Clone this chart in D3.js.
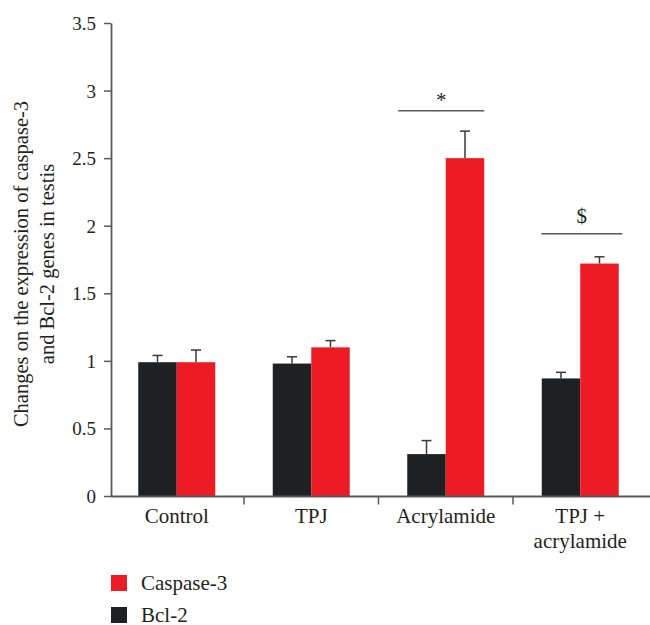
<!DOCTYPE html>
<html>
<head>
<meta charset="utf-8">
<script src="https://cdn.jsdelivr.net/npm/d3@7"></script>
<style>
  html, body { margin: 0; padding: 0; background: #fff; }
  svg { display: block; }
  text { font-family: "Liberation Serif", "DejaVu Serif", serif; fill: #231f20; }
</style>
</head>
<body>
<svg id="chart" width="650" height="625"></svg>
<script>
// ---- data ----
const categories = ["Control", "TPJ", "Acrylamide", "TPJ + acrylamide"];
const categoryLines = [["Control"], ["TPJ"], ["Acrylamide"], ["TPJ +", "acrylamide"]];
const seriesNames = ["Bcl-2", "Caspase-3"];
const bcl2 = [0.99, 0.98, 0.31, 0.87];
const bcl2Err = [0.05, 0.05, 0.10, 0.045];
const caspase3 = [0.99, 1.10, 2.50, 1.72];
const caspase3Err = [0.09, 0.05, 0.20, 0.05];
const yTicks = [0, 0.5, 1, 1.5, 2, 2.5, 3, 3.5];
const yTickLabels = ["0", "0.5", "1", "1.5", "2", "2.5", "3", "3.5"];
const annotCategories = ["Acrylamide", "TPJ + acrylamide"];
const annotSymbols = ["*", "$"];
const annotLevels = [2.85, 1.94];
const legendOrder = ["Caspase-3", "Bcl-2"];

// ---- layout ----
const colors = { "Bcl-2": "#1f2022", "Caspase-3": "#ed1c24" };
const axisColor = "#58595b";
const svg = d3.select("#chart");

const x0 = d3.scaleBand().domain(categories).range([109.5, 647.5])
  .paddingInner(0.4275).paddingOuter(0.4275 / 2);
const x1 = d3.scaleBand().domain(seriesNames).range([0, x0.bandwidth()]);
const y = d3.scaleLinear().domain([0, 3.5]).range([496, 23]);

const axisX = 111;

// y axis
const yAxis = d3.axisLeft(y).tickValues(yTicks)
  .tickFormat((d, i) => yTickLabels[i]).tickSize(7).tickPadding(8).tickSizeOuter(0);
const gy = svg.append("g").attr("transform", `translate(${axisX},0)`).call(yAxis);
gy.select(".domain").attr("stroke", axisColor).attr("stroke-width", 1.8);
gy.selectAll(".tick line").attr("stroke", axisColor).attr("stroke-width", 1.5);
gy.selectAll(".tick text").attr("font-family", "Liberation Serif").attr("font-size", 19)
  .attr("fill", "#231f20").attr("dy", "0.34em");

// bars
const rows = categories.map((c, i) => ({
  cat: c,
  vals: [
    { s: "Bcl-2", v: bcl2[i], e: bcl2Err[i] },
    { s: "Caspase-3", v: caspase3[i], e: caspase3Err[i] }
  ]
}));

const groups = svg.append("g").selectAll("g").data(rows).join("g")
  .attr("transform", d => `translate(${x0(d.cat)},0)`);

// error bars (behind bars)
groups.selectAll("g.err").data(d => d.vals).join("g").attr("class", "err")
  .each(function (d) {
    const g = d3.select(this);
    const cx = x1(d.s) + x1.bandwidth() / 2;
    g.append("line").attr("x1", cx).attr("x2", cx)
      .attr("y1", y(d.v)).attr("y2", y(d.v + d.e))
      .attr("stroke", "#3a3a3c").attr("stroke-width", 1.5);
    g.append("line").attr("x1", cx - 5).attr("x2", cx + 5)
      .attr("y1", y(d.v + d.e)).attr("y2", y(d.v + d.e))
      .attr("stroke", "#3a3a3c").attr("stroke-width", 1.5);
  });

groups.selectAll("rect").data(d => d.vals).join("rect")
  .attr("x", d => x1(d.s))
  .attr("width", x1.bandwidth())
  .attr("y", d => y(d.v))
  .attr("height", d => y(0) - y(d.v))
  .attr("fill", d => colors[d.s]);

// x axis
const xAxisY = y(0) + 0.5;
svg.append("line").attr("x1", axisX).attr("x2", 650).attr("y1", xAxisY).attr("y2", xAxisY)
  .attr("stroke", axisColor).attr("stroke-width", 1.8);
const boundaries = categories.slice(0, -1).map(c => x0(c) + x0.bandwidth() / 2 + x0.step() / 2);
svg.append("g").selectAll("line").data(boundaries).join("line")
  .attr("x1", d => d).attr("x2", d => d)
  .attr("y1", xAxisY).attr("y2", xAxisY + 8)
  .attr("stroke", axisColor).attr("stroke-width", 1.5);

// x labels
const xl = svg.append("g").selectAll("text").data(categories).join("text")
  .attr("x", d => x0(d) + x0.bandwidth() / 2)
  .attr("y", 523)
  .attr("text-anchor", "middle")
  .attr("font-size", 21);
xl.each(function (d, i) {
  const t = d3.select(this);
  categoryLines[i].forEach((line, j) => {
    t.append("tspan").attr("x", x0(d) + x0.bandwidth() / 2).attr("dy", j === 0 ? 0 : 25).text(line);
  });
});

// y title
const title = svg.append("text")
  .attr("transform", "translate(27.5,264) rotate(-90)")
  .attr("text-anchor", "middle")
  .attr("font-size", 20.5);
title.append("tspan").attr("x", 0).attr("y", 0).text("Changes on the expression of caspase-3");
title.append("tspan").attr("x", 0).attr("y", 26.5).text("and Bcl-2 genes in testis");

// annotations
const annotSpan = [[-47.5, 38.5], [-39, 42]];
annotCategories.forEach((c, i) => {
  const cx = x0(c) + x0.bandwidth() / 2;
  const ly = y(annotLevels[i]);
  svg.append("line")
    .attr("x1", cx + annotSpan[i][0]).attr("x2", cx + annotSpan[i][1])
    .attr("y1", ly).attr("y2", ly)
    .attr("stroke", axisColor).attr("stroke-width", 1.5);
  svg.append("text")
    .attr("x", cx + (annotSpan[i][0] + annotSpan[i][1]) / 2)
    .attr("y", ly - (i === 0 ? 4 : 10.5))
    .attr("text-anchor", "middle")
    .attr("font-size", 21)
    .attr("fill", "#414042")
    .text(annotSymbols[i]);
});

// legend
const leg = svg.append("g").selectAll("g").data(legendOrder).join("g")
  .attr("transform", (d, i) => `translate(111,${575 + i * 32})`);
leg.append("rect").attr("width", 16).attr("height", 16).attr("fill", d => colors[d]);
leg.append("text").attr("x", 30).attr("y", 14.5).attr("font-size", 21).text(d => d);
</script>
</body>
</html>
